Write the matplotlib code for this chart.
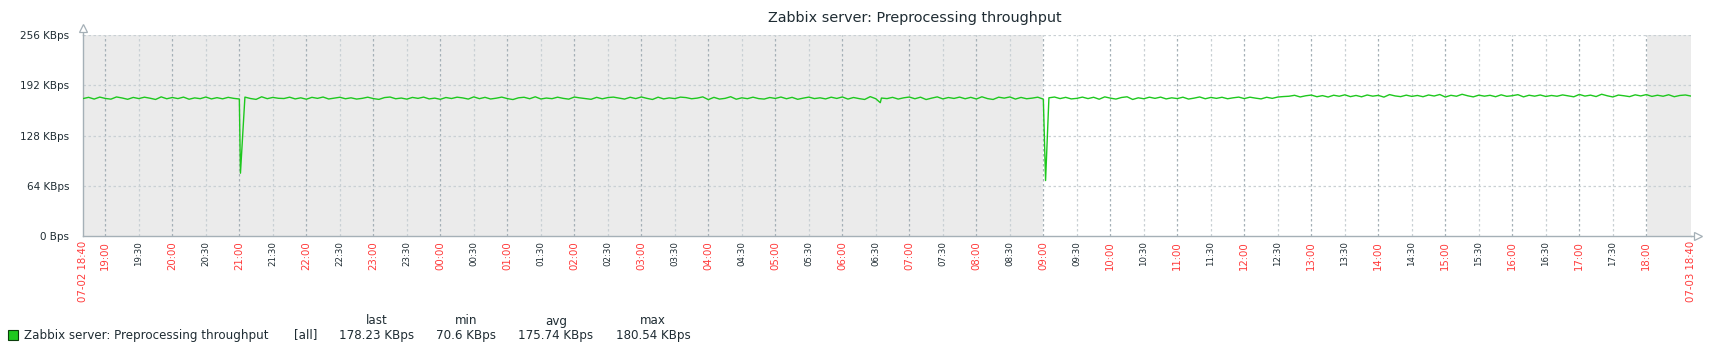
import matplotlib.pyplot as plt
import numpy as np

# 5-minute samples from 07-02 18:40 to 07-03 18:40 (KBps), one row per hour
kbps = [
    175.0, 176.6, 174.4, 176.9, 175.2, 174.3, 177.1, 175.8, 174.1, 176.5, 175.0, 176.8,
    175.5, 173.9, 177.2, 174.8, 176.4, 175.0, 176.9, 174.2, 175.9, 174.9, 177.0, 174.6,
    176.2, 174.7, 176.6, 175.3, 174.5, 176.9, 175.1, 174.0, 177.3, 174.9, 176.5, 175.4,
    175.1, 176.8, 174.6, 176.0, 174.2, 176.6, 175.3, 177.0, 174.5, 175.6, 176.7, 174.8,
    176.0, 174.4, 175.3, 176.8, 175.0, 174.0, 176.3, 177.0, 174.8, 175.7, 174.3, 176.5,
    175.3, 176.9, 174.6, 175.6, 174.1, 176.4, 175.1, 176.8, 175.9, 174.4, 177.2, 174.9,
    176.6, 174.5, 175.5, 176.9, 175.0, 173.8, 176.0, 176.7, 174.8, 177.3, 174.5, 175.7,
    174.9, 176.8, 175.3, 174.3, 177.0, 175.9, 175.0, 174.1, 176.6, 174.7, 176.3, 176.9,
    175.6, 174.4, 176.7, 175.0, 177.1, 175.3, 173.9, 176.8, 174.6, 175.9, 175.0, 176.9,
    176.3, 174.8, 175.6, 177.2, 173.7, 176.6, 174.4, 175.3, 177.4, 174.2, 176.0, 174.9,
    176.8, 175.0, 174.4, 176.4, 175.2, 177.0, 174.8, 176.6, 174.1, 175.6, 176.9, 175.0,
    176.0, 174.6, 176.8, 175.2, 177.1, 174.4, 176.4, 175.0, 173.9, 177.5, 174.8, 175.7,
    175.0, 176.6, 174.4, 176.0, 177.0, 174.8, 176.8, 173.8, 175.6, 177.2, 174.6, 176.4,
    175.2, 176.9, 174.8, 176.6, 174.5, 177.3, 175.0, 173.9, 176.8, 175.6, 177.1, 174.4,
    176.5, 174.8, 175.6, 176.8, 174.3, 176.0, 177.0, 175.0, 176.6, 174.6, 175.3, 176.9,
    175.0, 176.7, 174.2, 177.2, 175.6, 174.4, 176.4, 177.3, 173.9, 176.0, 174.8, 176.8,
    175.3, 176.9, 174.6, 176.0, 175.0, 176.8, 174.4, 175.6, 177.1, 174.8, 176.5, 175.3,
    176.7, 174.8, 176.0, 176.9, 175.0, 176.8, 175.6, 174.6, 176.7, 175.3, 177.0, 177.6,
    178.0, 179.2, 177.1, 178.6, 179.5, 177.4, 178.8, 177.0, 179.3, 178.0, 179.8, 177.5,
    179.0, 177.3, 179.6, 178.1, 179.1, 176.9, 180.1, 178.4, 177.5, 179.4, 177.8, 179.0,
    177.4, 179.6, 178.3, 180.2, 177.0, 179.2, 178.0, 180.5, 178.6, 177.2, 179.4, 178.1,
    179.2, 177.4, 179.8, 177.9, 178.7, 180.0, 177.2, 179.3, 178.1, 179.6, 177.7, 179.0,
    178.0, 179.7, 178.5, 177.3, 180.3, 178.2, 179.4, 177.6, 180.54, 178.6, 177.1, 179.5,
    178.6, 177.5, 179.8, 178.4, 180.1, 177.8, 179.3, 178.0, 179.9, 177.4, 179.0, 179.6,
    178.23,
]
# short dips (minutes after 18:40, KBps)
dip_minutes = [141, 862, 714]
dip_kbps = [80.0, 70.6, 169.8]

minutes = list(range(0, 1441, 5)) + dip_minutes
values = kbps + dip_kbps
order = np.argsort(minutes)
x = np.array(minutes)[order] / 60.0
y = np.array(values)[order]

W, H = 1711, 351
fig = plt.figure(figsize=(W / 100, H / 100), dpi=100)
L, R, T, B = 83, 1691, 35, 236
ax = fig.add_axes([L / W, 1 - B / H, (R - L) / W, (B - T) / H])

ax.set_xlim(0, 24)
ax.set_ylim(0, 256)

# working time white, the rest gray (18:40 start -> 09:00 is 14h20m, 18:00 is 23h20m)
ax.set_facecolor('#ebebeb')
ax.axvspan(14 + 20 / 60, 23 + 20 / 60, color='white', zorder=0)

hour_labels = ['19:00', '20:00', '21:00', '22:00', '23:00', '00:00', '01:00', '02:00',
               '03:00', '04:00', '05:00', '06:00', '07:00', '08:00', '09:00', '10:00',
               '11:00', '12:00', '13:00', '14:00', '15:00', '16:00', '17:00', '18:00']
half_labels = ['19:30', '20:30', '21:30', '22:30', '23:30', '00:30', '01:30', '02:30',
               '03:30', '04:30', '05:30', '06:30', '07:30', '08:30', '09:30', '10:30',
               '11:30', '12:30', '13:30', '14:30', '15:30', '16:30', '17:30']
first = 20 / 60
for i, lab in enumerate(hour_labels):
    xp = first + i
    ax.axvline(xp, color='#a5b0b7', ls=(0, (2, 2)), lw=0.9, zorder=1)
    ax.text(xp, -0.025, lab, transform=ax.get_xaxis_transform(), rotation=90,
            ha='center', va='top', fontsize=7.3, color='#ff3a3a')
for i, lab in enumerate(half_labels):
    xp = first + 0.5 + i
    ax.axvline(xp, color='#c9d0d4', ls=(0, (2, 2)), lw=0.9, zorder=1)
    ax.text(xp, -0.025, lab, transform=ax.get_xaxis_transform(), rotation=90,
            ha='center', va='top', fontsize=6.2, color='#1f2c33')
for lab, xp in [('07-02 18:40', 0), ('07-03 18:40', 24)]:
    ax.text(xp, -0.025, lab, transform=ax.get_xaxis_transform(), rotation=90,
            ha='center', va='top', fontsize=7.3, color='#ff3a3a')

yticks = [0, 64, 128, 192, 256]
ylabels = ['0 Bps', '64 KBps', '128 KBps', '192 KBps', '256 KBps']
for v in yticks[1:]:
    ax.axhline(v, color='#c9d0d4', ls=(0, (2, 2)), lw=0.9, zorder=1)
ax.set_yticks(yticks)
ax.set_yticklabels(ylabels, fontsize=7.5, color='#1f2c33')
ax.tick_params(axis='y', length=0, pad=10)
ax.set_xticks([])

for s in ['top', 'right']:
    ax.spines[s].set_visible(False)
for s in ['left', 'bottom']:
    ax.spines[s].set_color('#a5b0b7')
    ax.spines[s].set_linewidth(1.0)
    ax.spines[s].set_zorder(3)

ax.plot(x, y, color='#1ec81e', lw=1.0, zorder=4)

# axis arrows
ax.plot([0, 0], [256, 262], color='#a5b0b7', lw=1.0, clip_on=False)
ax.plot([0], [265], marker='^', ms=6, mfc='white', mec='#a5b0b7', mew=0.9, clip_on=False)
ax.plot([24, 24.05], [0, 0], color='#a5b0b7', lw=1.0, clip_on=False)
ax.plot([24.1], [0], marker='>', ms=6, mfc='white', mec='#a5b0b7', mew=0.9, clip_on=False)

fig.text(915 / W, 1 - 18 / H, 'Zabbix server: Preprocessing throughput',
         ha='center', va='center', fontsize=10.4, color='#1f2c33')

# legend
leg_y = 1 - 335 / H
head_y = 1 - 321 / H
fig.patches.append(plt.Rectangle((8 / W, 1 - 340 / H), 10 / W, 10 / H, transform=fig.transFigure,
                                 facecolor='#1ec81e', edgecolor='#0b3d0b', lw=0.8))
fig.text(24 / W, leg_y, 'Zabbix server: Preprocessing throughput', ha='left', va='center',
         fontsize=8.6, color='#1f2c33')
fig.text(294 / W, leg_y, '[all]', ha='left', va='center', fontsize=8.6, color='#1f2c33')
stat_names = ['last', 'min', 'avg', 'max']
stat_values = ['178.23 KBps', '70.6 KBps', '175.74 KBps', '180.54 KBps']
stat_x = [377, 466, 556, 653]
for nm, val, sx in zip(stat_names, stat_values, stat_x):
    fig.text(sx / W, head_y, nm, ha='center', va='center', fontsize=8.6, color='#1f2c33')
    fig.text(sx / W, leg_y, val, ha='center', va='center', fontsize=8.6, color='#1f2c33')

fig.savefig('out.png', dpi=100)
